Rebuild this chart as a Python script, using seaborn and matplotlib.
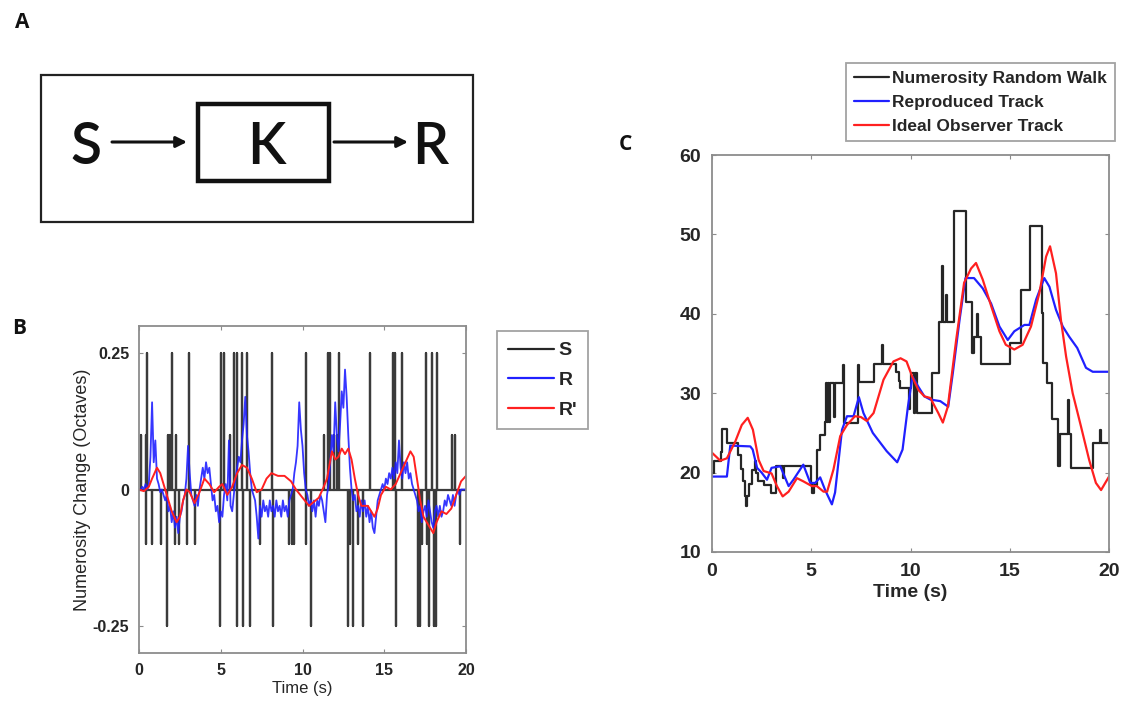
import numpy as np
import matplotlib
matplotlib.use("Agg")
import matplotlib.pyplot as plt
import seaborn as sns
from matplotlib.patches import Rectangle
from matplotlib.lines import Line2D

# ---------------------------------------------------
# data
# ---------------------------------------------------

# panel B : stimulus changes S (time in s, change in octaves)
S_TIMES = [0.10, 0.41, 0.45, 0.51, 0.82, 1.33, 1.71, 1.78, 1.88, 2.00, 2.18, 2.24,
           2.47, 2.92, 3.08, 3.45, 4.94, 5.02, 5.20, 5.59, 5.80, 6.00, 6.02, 6.33,
           6.35, 6.63, 6.80, 7.41, 8.16, 8.20, 9.18, 9.37, 9.45, 10.22, 10.24, 10.49,
           11.33, 11.57, 11.67, 11.94, 12.08, 12.22, 12.76, 12.88, 13.10, 13.39, 13.67,
           14.12, 15.55, 15.67, 15.72, 16.08, 17.08, 17.16, 17.33, 17.53, 17.63, 17.73,
           17.90, 18.06, 18.14, 18.22, 19.16, 19.31, 19.63]
S_CHANGE = [0.1, 0.1, -0.1, 0.25, -0.1, -0.1, -0.25, 0.1, 0.1, 0.25, -0.1, 0.1,
            -0.1, -0.1, 0.25, -0.1, -0.25, 0.25, 0.25, 0.1, 0.25, 0.25, -0.25, 0.25,
            -0.25, 0.25, -0.25, -0.1, 0.25, -0.25, -0.1, -0.1, -0.1, -0.1, 0.25, -0.25,
            0.1, 0.25, 0.25, 0.1, 0.1, 0.25, -0.25, -0.1, -0.25, -0.1, -0.25,
            0.25, 0.25, 0.25, -0.25, 0.25, -0.25, -0.25, -0.1, 0.25, -0.1, -0.25,
            0.25, -0.25, -0.25, 0.25, 0.1, 0.1, -0.1]

# panel B : reproduced response R, sampled every 0.1 s from 0 to 20 s
R_STEP = 0.1
R_VALUES = [
    0.0, 0.0, 0.005, 0.0, 0.01, 0.0, 0.01, 0.06, 0.16, 0.05,
    0.09, 0.02, 0.01, -0.005, 0.0, -0.01, -0.02, -0.01, -0.04, -0.03,
    -0.06, -0.04, -0.07, -0.05, -0.08, -0.05, -0.04, -0.02, -0.01, 0.02,
    0.08, 0.03, -0.01, -0.02, -0.03, -0.01, -0.03, 0.0, 0.02, 0.04,
    0.02, 0.05, 0.03, 0.04, 0.01, -0.02, -0.01, -0.04, -0.03, -0.06,
    -0.04, -0.05, -0.01, 0.01, -0.02, 0.09, -0.03, -0.04, -0.01, 0.02,
    0.04, 0.06, 0.05, 0.09, 0.12, 0.17, 0.10, 0.07, 0.03, 0.0,
    -0.01, -0.02, -0.05, -0.09, -0.03, -0.05, -0.02, -0.04, -0.03, -0.05,
    -0.02, -0.04, -0.03, -0.05, -0.02, -0.04, -0.03, -0.05, -0.02, -0.04,
    -0.03, -0.05, -0.02, -0.01, 0.0, 0.03, 0.05, 0.08, 0.16, 0.11,
    0.08, 0.03, 0.0, -0.01, -0.03, -0.02, -0.04, -0.02, -0.05, -0.02,
    -0.03, -0.01, -0.02, -0.04, -0.06, -0.01, 0.01, 0.05, 0.10, 0.07,
    0.16, 0.10, 0.07, 0.12, 0.18, 0.15, 0.22, 0.17, 0.10, 0.04,
    0.0, -0.02, -0.01, -0.04, -0.03, -0.05, -0.02, -0.04, -0.02, -0.05,
    -0.03, -0.06, -0.04, -0.07, -0.08, -0.05, -0.02, -0.01, 0.0, 0.01,
    0.0, 0.02, 0.01, 0.03, 0.02, 0.04, 0.02, 0.05, 0.03, 0.09,
    0.04, 0.02, 0.05, 0.03, 0.05, 0.02, 0.03, 0.01, 0.0, -0.01,
    -0.02, -0.04, -0.03, -0.06, -0.04, -0.03, -0.05, -0.02, -0.04, -0.06,
    -0.07, -0.04, -0.03, -0.05, -0.03, -0.05, -0.04, -0.02, -0.03, -0.01,
    -0.02, -0.03, -0.01, -0.03, -0.01, 0.0, -0.01, 0.0, 0.0, 0.0,
    0.0]

# panel B : ideal observer response R'
RP_TIMES = [0.0, 0.3, 0.6, 0.8, 1.1, 1.3, 1.5, 1.7, 2.0, 2.3, 2.5, 2.7, 2.9, 3.1,
            3.4, 3.7, 4.0, 4.3, 4.6, 4.9, 5.1, 5.4, 5.7, 6.0, 6.3, 6.6, 6.9, 7.2,
            7.5, 7.8, 8.1, 8.5, 8.9, 9.3, 9.6, 10.0, 10.4, 10.8, 11.0, 11.3, 11.5,
            11.8, 12.0, 12.2, 12.4, 12.6, 12.8, 13.0, 13.2, 13.4, 13.6, 13.8, 14.0,
            14.2, 14.4, 14.6, 14.8, 15.1, 15.4, 15.7, 16.0, 16.3, 16.6, 16.8, 17.0,
            17.2, 17.4, 17.7, 18.0, 18.2, 18.5, 18.8, 19.1, 19.4, 19.7, 20.0]
RP_VALUES = [0.0, -0.003, 0.005, 0.02, 0.04, 0.03, 0.01, -0.01, -0.04, -0.06, -0.05,
             -0.02, 0.0, -0.005, -0.025, -0.005, 0.02, 0.01, -0.005, 0.005, 0.01,
             -0.01, 0.005, 0.03, 0.045, 0.04, 0.02, -0.005, 0.0, 0.02, 0.03, 0.025,
             0.025, 0.015, 0.0, -0.015, -0.03, -0.02, -0.015, 0.005, 0.02, 0.07,
             0.055, 0.06, 0.075, 0.065, 0.075, 0.055, 0.02, -0.01, -0.03, -0.03,
             -0.03, -0.04, -0.05, -0.035, -0.01, 0.005, 0.0, 0.01, 0.03, 0.05, 0.07,
             0.06, 0.02, -0.02, -0.05, -0.065, -0.08, -0.06, -0.04, -0.045, -0.035,
             -0.01, 0.015, 0.025]

# panel C : numerosity random walk (step changes: time, level)
WALK_T = [0.00, 0.10, 0.45, 0.50, 0.75, 1.30, 1.45, 1.55, 1.65, 1.72, 1.78, 1.85,
          2.00, 2.17, 2.22, 2.30, 2.60, 2.95, 3.20, 3.58, 3.65, 5.00, 5.05, 5.12,
          5.30, 5.45, 5.70, 5.75, 5.80, 5.85, 5.90, 5.95, 6.15, 6.20, 6.60, 6.65,
          7.35, 7.38, 7.42, 8.15, 8.55, 8.62, 9.28, 9.40, 9.45, 9.90, 9.95, 10.05,
          10.20, 10.25, 10.35, 11.10, 11.45, 11.60, 11.66, 11.78, 11.85, 12.20,
          12.80, 13.10, 13.18, 13.35, 13.42, 13.55, 15.00, 15.55, 16.00, 16.60,
          16.70, 16.90, 17.15, 17.45, 17.52, 17.95, 18.00, 18.10, 19.20, 19.55,
          19.60, 20.00]
WALK_N = [20.0, 21.4, 22.6, 25.5, 23.7, 22.2, 20.5, 19.0, 17.0, 15.8, 17.0, 18.6,
          20.3, 21.5, 20.0, 19.0, 18.4, 17.4, 20.8, 19.3, 20.8, 18.5, 17.4, 18.5,
          22.9, 24.7, 26.4, 31.3, 26.4, 31.3, 26.4, 31.3, 27.0, 31.3, 33.6, 26.3,
          31.4, 33.6, 31.4, 33.7, 36.1, 33.7, 32.7, 31.5, 30.6, 28.0, 30.6, 32.5,
          27.5, 32.5, 27.5, 32.5, 39.0, 46.0, 39.0, 42.4, 39.0, 52.9,
          41.5, 35.0, 37.1, 40.0, 37.1, 33.7, 36.3, 43.0, 51.1, 40.1,
          33.8, 31.3, 26.7, 20.8, 24.8, 29.2, 24.8, 20.6, 23.7, 25.4,
          23.7, 23.7]

# panel C : reproduced track
REP_T = [0.0, 0.75, 0.92, 1.93, 2.05, 2.27, 2.5, 2.77, 3.0, 3.44, 3.86, 4.1, 4.6,
         4.95, 5.2, 5.45, 5.7, 6.04, 6.2, 6.55, 6.8, 7.13, 7.4, 7.63, 8.1, 8.8,
         9.33, 9.6, 9.87, 10.1, 10.4, 10.7, 11.0, 11.5, 11.9, 12.13, 12.47, 12.77,
         13.2, 13.64, 14.06, 14.48, 14.9, 15.23, 15.74, 15.99, 16.33, 16.74, 17.0,
         17.33, 17.67, 18.0, 18.4, 18.84, 19.18, 20.0]
REP_N = [19.5, 19.5, 23.4, 23.3, 22.9, 20.6, 20.0, 19.1, 20.6, 20.8, 18.3, 19.1,
         21.0, 18.7, 18.7, 19.4, 17.8, 16.0, 17.5, 25.4, 27.1, 27.1, 29.5, 27.5,
         25.0, 22.7, 21.3, 22.9, 28.3, 32.1, 30.8, 29.6, 29.2, 29.0, 28.3, 32.5,
         39.2, 44.5, 44.5, 43.2, 41.3, 38.4, 36.7, 37.8, 38.6, 38.6, 41.8, 44.5,
         43.4, 40.5, 38.4, 37.1, 35.7, 33.2, 32.7, 32.7]

# panel C : ideal observer track
IDEAL_T = [0.0, 0.42, 0.75, 1.17, 1.5, 1.8, 2.06, 2.35, 2.6, 3.0, 3.27, 3.56, 3.86,
           4.28, 4.6, 5.03, 5.28, 5.62, 5.8, 6.12, 6.46, 6.8, 7.2, 7.5, 7.8, 8.14,
           8.64, 9.14, 9.5, 9.8, 10.1, 10.4, 10.7, 11.0, 11.4, 11.63, 11.88, 12.3,
           12.7, 13.05, 13.3, 13.64, 14.06, 14.48, 14.8, 15.23, 15.65, 16.07, 16.49,
           16.83, 17.03, 17.33, 17.58, 17.84, 18.17, 18.59, 19.0, 19.34, 19.6, 20.0]
IDEAL_N = [22.5, 21.5, 21.8, 23.9, 26.0, 26.9, 25.4, 21.6, 20.2, 19.9, 18.3, 17.0,
           17.6, 19.3, 18.9, 18.3, 18.3, 17.6, 17.6, 20.4, 24.6, 26.0, 27.1, 27.0,
           26.5, 27.5, 31.7, 34.0, 34.4, 34.0, 32.0, 30.4, 29.6, 29.4, 27.5, 26.3,
           28.3, 36.7, 43.9, 45.7, 46.4, 44.3, 41.0, 37.8, 36.1, 35.5, 36.1, 38.4,
           42.6, 47.2, 48.5, 45.1, 39.2, 34.6, 30.0, 25.8, 21.6, 18.7, 17.8, 19.5]

B_LABELS = ["S", "R", "R'"]
C_LABELS = ["Numerosity Random Walk", "Reproduced Track", "Ideal Observer Track"]

BLACK = "#262626"
BLUE = "#2020ff"
RED = "#ff2020"
SPINE = "#8c8c8c"

# ---------------------------------------------------
# style
# ---------------------------------------------------
sns.set_style("white")
plt.rcParams["font.family"] = ["Liberation Sans", "DejaVu Sans"]
plt.rcParams["xtick.direction"] = "in"
plt.rcParams["ytick.direction"] = "in"


def matlab_axes(ax, fontsize, pad):
    for sp in ax.spines.values():
        sp.set_visible(True)
        sp.set_color(SPINE)
        sp.set_linewidth(1.3)
    ax.tick_params(axis="both", which="both", direction="in", length=3,
                   width=0.8, color=SPINE, top=True, right=True,
                   bottom=True, left=True, labelsize=fontsize, pad=pad)
    for lab in ax.get_xticklabels() + ax.get_yticklabels():
        lab.set_fontweight("bold")
    ax.grid(False)


W, H = 1123, 707
fig = plt.figure(figsize=(W / 100, H / 100), dpi=100)

# ---------------------------------------------------
# panel A : block diagram (pixel coords)
# ---------------------------------------------------
axA = fig.add_axes([0, 0, 1, 1])
axA.set_xlim(0, W)
axA.set_ylim(H, 0)
axA.axis("off")
axA.add_patch(Rectangle((41, 75), 432, 147, fill=False, lw=1.6, ec="#222222"))
axA.add_patch(Rectangle((198, 104), 131, 77, fill=False, lw=3.2, ec="#111111"))
for s, x in [("S", 86), ("K", 266), ("R", 430)]:
    axA.text(x, 147, s, fontsize=41, family=["Lato", "DejaVu Sans"],
             fontweight="semibold", ha="center", va="center", color="#111111")
for x0, x1 in [(112, 187), (334, 408)]:
    axA.annotate("", xy=(x1, 142), xytext=(x0, 142),
                 arrowprops=dict(arrowstyle="-|>", lw=2.2, color="#111111",
                                 mutation_scale=16, shrinkA=0, shrinkB=0))
for s, x, y in [("A", 22, 22), ("B", 19, 329), ("C", 625, 145)]:
    axA.text(x, y, s, fontsize=15, fontweight="bold",
             family=["Open Sans", "DejaVu Sans"], ha="center", va="center",
             color="#111111")

# ---------------------------------------------------
# panel B
# ---------------------------------------------------
axB = fig.add_axes([139 / W, 1 - 653 / H, 327 / W, 327 / H])

# spike train for S: baseline with a vertical excursion at each change
order = np.argsort(S_TIMES)
s_x, s_y = [0.0], [0.0]
for i in order:
    s_x += [S_TIMES[i], S_TIMES[i], S_TIMES[i]]
    s_y += [0.0, S_CHANGE[i], 0.0]
s_x.append(20.0)
s_y.append(0.0)
r_t = np.round(np.arange(len(R_VALUES)) * R_STEP, 2)

sns.lineplot(x=s_x, y=s_y, ax=axB, color=BLACK, lw=1.6, estimator=None,
             sort=False, alpha=0.9)
sns.lineplot(x=r_t, y=R_VALUES, ax=axB, color=BLUE, lw=1.3, estimator=None,
             sort=False, alpha=0.9)
sns.lineplot(x=RP_TIMES, y=RP_VALUES, ax=axB, color=RED, lw=1.4,
             estimator=None, sort=False)
axB.set_xlim(0, 20)
axB.set_ylim(-0.3, 0.3)
axB.set_xticks([0, 5, 10, 15, 20])
axB.set_yticks([-0.25, 0, 0.25])
axB.set_yticklabels(["-0.25", "0", "0.25"])
matlab_axes(axB, 11.5, 7)
axB.set_xlabel("Time (s)", fontsize=12, labelpad=2)
axB.set_ylabel("Numerosity Change (Octaves)", fontsize=13, labelpad=1)

handlesB = [Line2D([], [], color=c, lw=1.6) for c in (BLACK, BLUE, RED)]
legB = fig.legend(handlesB, B_LABELS, loc="upper left",
                  bbox_to_anchor=(497 / W, 1 - 331 / H),
                  prop=dict(size=14, weight="bold"),
                  frameon=True, fancybox=False, edgecolor=SPINE,
                  handlelength=2.4, handletextpad=0.2, labelspacing=0.62,
                  borderpad=0.55, borderaxespad=0)
legB.get_frame().set_linewidth(1.3)

# ---------------------------------------------------
# panel C
# ---------------------------------------------------
axC = fig.add_axes([712 / W, 1 - 552 / H, 397 / W, 397 / H])
sns.lineplot(x=WALK_T, y=WALK_N, ax=axC, color=BLACK, lw=1.6,
             estimator=None, sort=False, drawstyle="steps-post")
sns.lineplot(x=REP_T, y=REP_N, ax=axC, color=BLUE, lw=1.6, estimator=None,
             sort=False)
sns.lineplot(x=IDEAL_T, y=IDEAL_N, ax=axC, color=RED, lw=1.6,
             estimator=None, sort=False)
axC.set_xlim(0, 20)
axC.set_ylim(10, 60)
axC.set_xticks([0, 5, 10, 15, 20])
axC.set_yticks([10, 20, 30, 40, 50, 60])
matlab_axes(axC, 14, 8)
axC.set_xlabel("Time (s)", fontsize=14, fontweight="bold", labelpad=3)
axC.set_ylabel("")

handlesC = [Line2D([], [], color=c, lw=1.6) for c in (BLACK, BLUE, RED)]
legC = fig.legend(handlesC, C_LABELS, loc="upper left",
                  bbox_to_anchor=(846 / W, 1 - 63 / H),
                  prop=dict(size=12.5, weight="bold"),
                  frameon=True, fancybox=False, edgecolor=SPINE,
                  handlelength=2.0, handletextpad=0.2, labelspacing=0.5,
                  borderpad=0.45, borderaxespad=0)
legC.get_frame().set_linewidth(1.3)

fig.savefig("out.png", dpi=100)
